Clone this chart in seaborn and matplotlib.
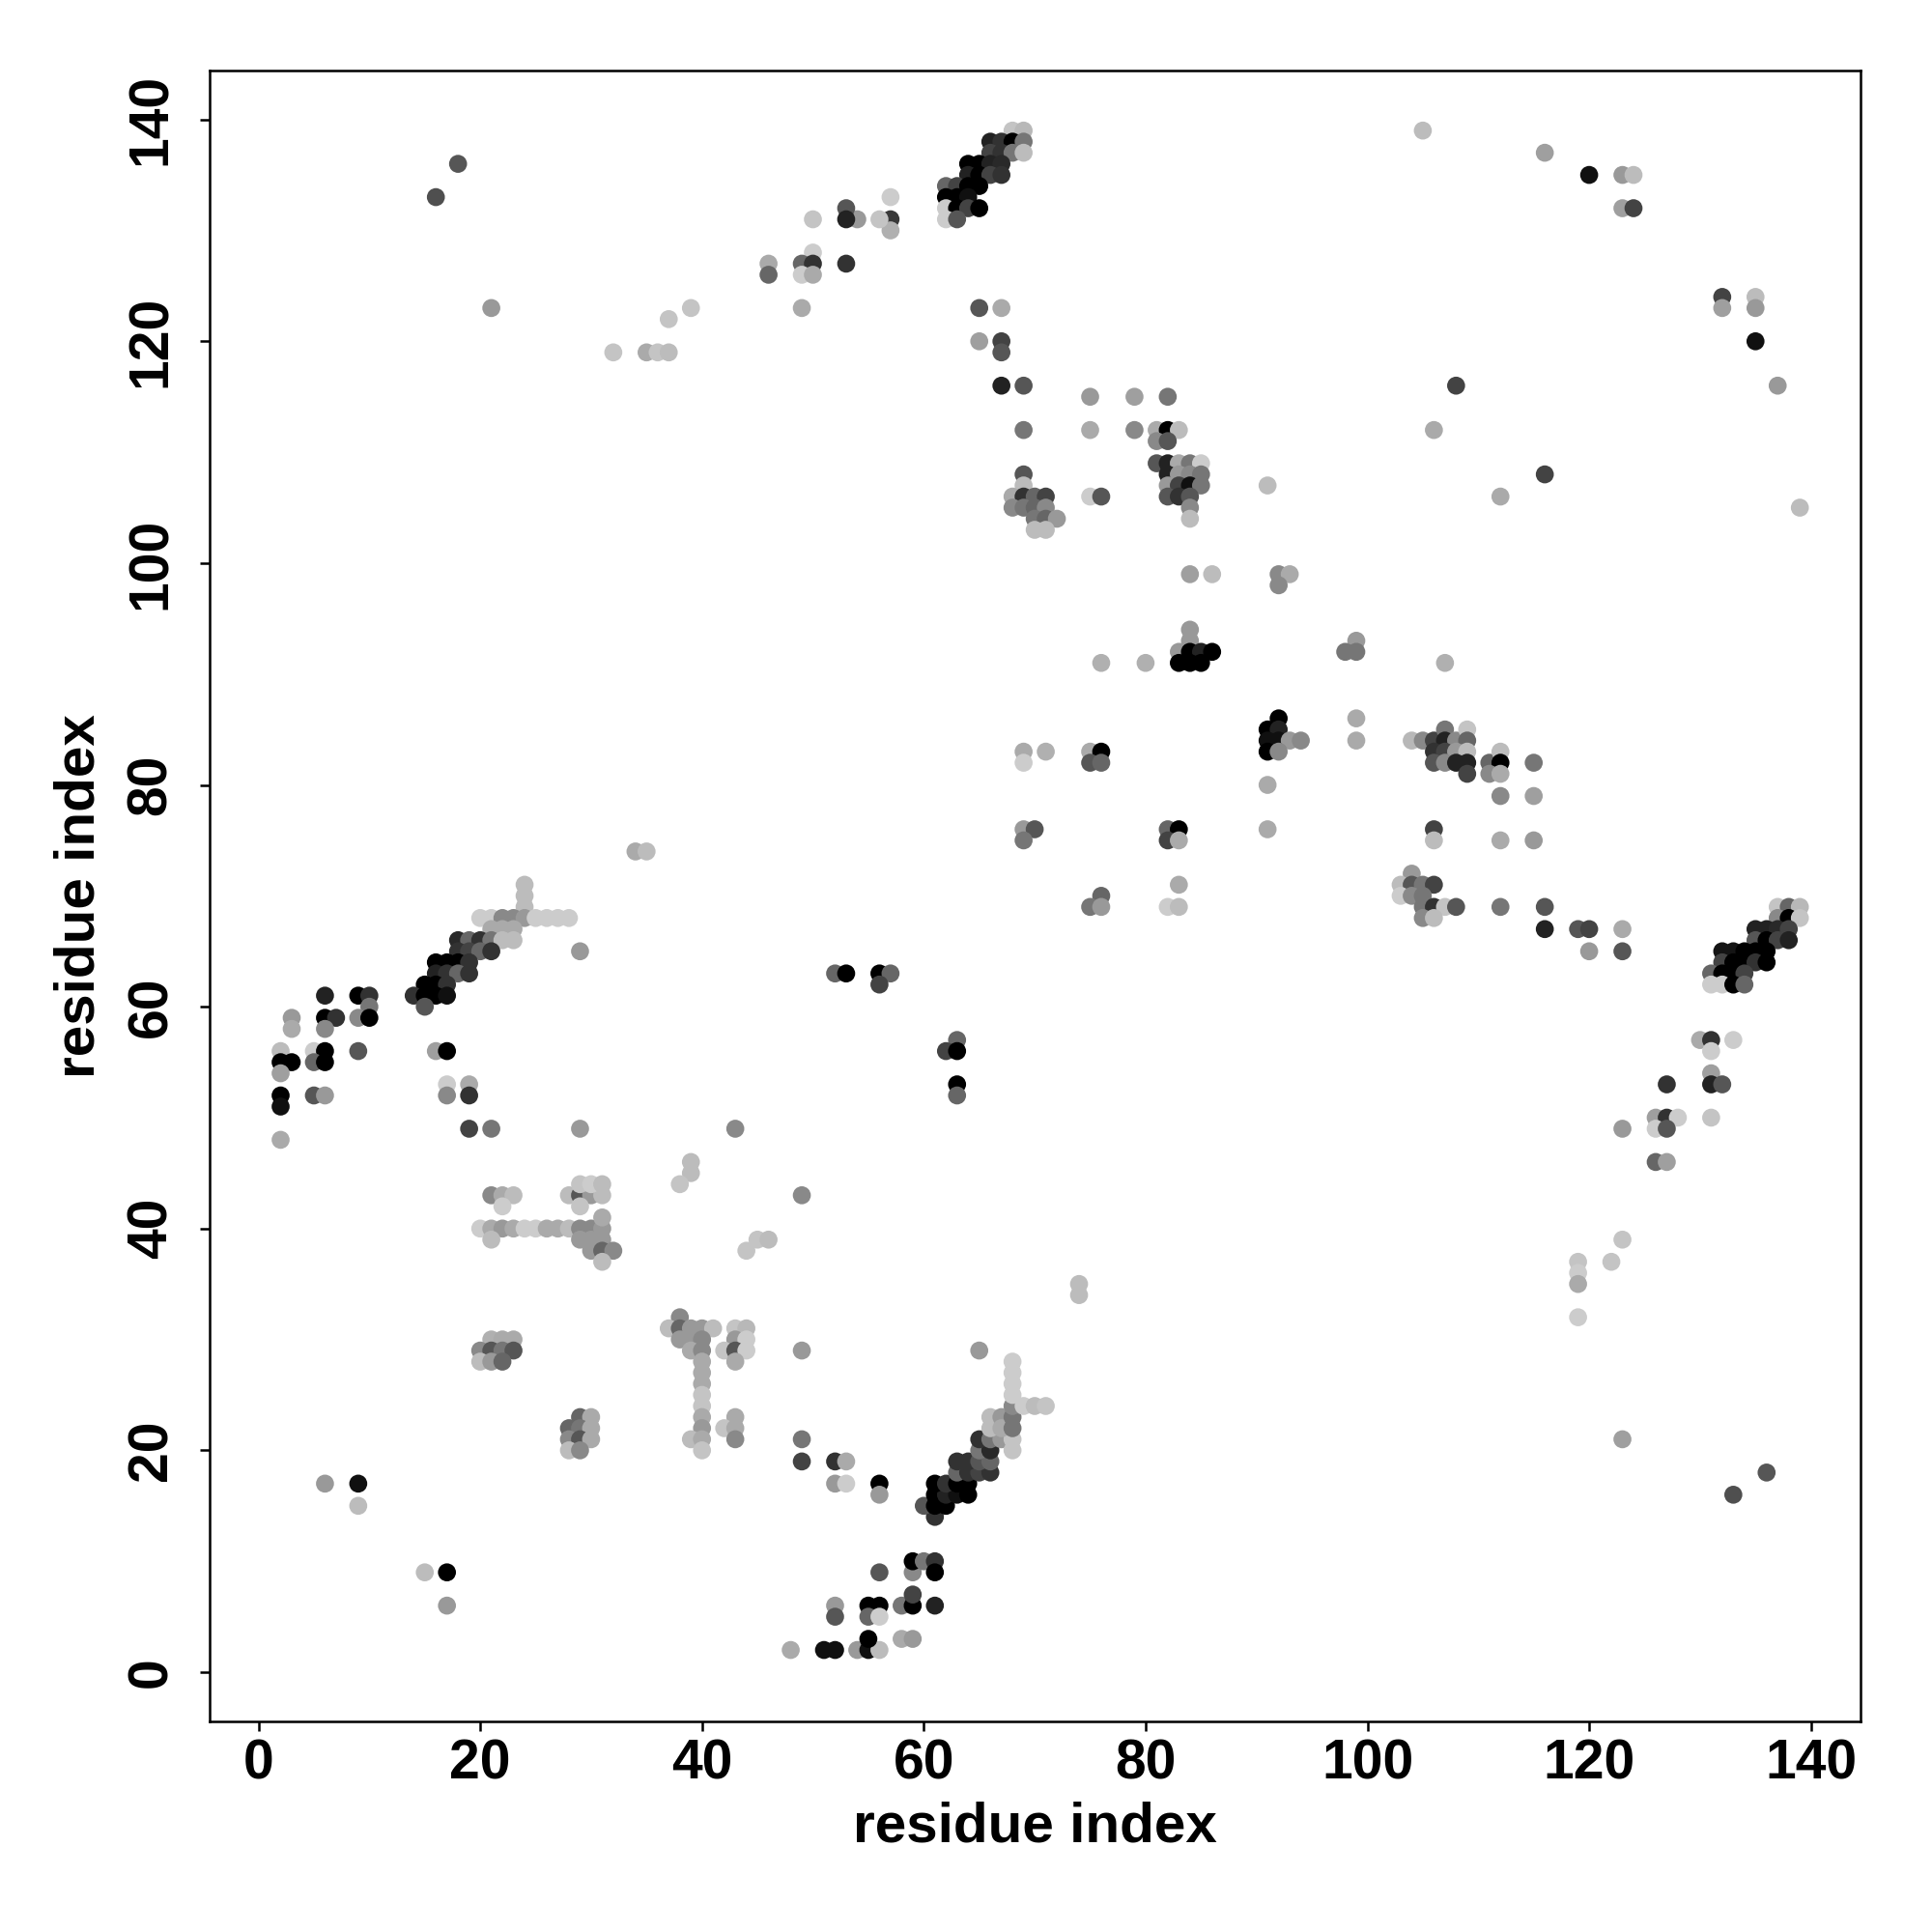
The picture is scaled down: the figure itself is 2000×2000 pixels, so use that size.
import numpy as np
import pandas as pd
import matplotlib
matplotlib.use("Agg")
import matplotlib.pyplot as plt
import seaborn as sns
from matplotlib.colors import LinearSegmentedColormap

# contacts as (residue i, residue j, score); score 0 = weakest (light), 1 = strongest (black)
top_left = [(18, 136, .58), (16, 133, .61), (21, 123, .25), (32, 119, .04), (35, 119, .17),
            (36, 119, .04), (37, 119, .08), (37, 122, .04), (39, 123, .04)]

hairpin_top = [(68, 139, .04), (69, 139, .1),
               (66, 138, .83), (67, 138, .75), (68, 138, 1.0), (69, 138, .42),
               (66, 137, .67), (67, 137, .75), (68, 137, .42), (69, 137, .08),
               (64, 136, 1.0), (65, 136, 1.0), (66, 136, .83), (67, 136, .8),
               (64, 135, .83), (65, 135, 1.0), (66, 135, .67), (67, 135, .75),
               (62, 134, .5), (63, 134, .67), (64, 134, 1.0), (65, 134, 1.0),
               (62, 133, 1.0), (63, 133, 1.0), (64, 133, .92),
               (62, 132, 0.0), (63, 132, 1.0), (64, 132, .67), (65, 132, 1.0),
               (62, 131, 0.0), (63, 131, .58)]

strand_130 = [(57, 133, 0.0), (57, 131, .72), (57, 130, .14), (56, 131, .04), (54, 131, .25),
              (53, 132, .58), (53, 131, .83), (50, 131, .04), (50, 128, 0.0), (49, 127, .5),
              (50, 127, .75), (53, 127, .75), (49, 126, 0.0), (50, 126, .17), (46, 127, .17),
              (46, 126, .5), (49, 123, .17)]

strand_120 = [(65, 123, .58), (67, 123, .17), (65, 120, .22), (67, 120, .67), (67, 119, .58),
              (67, 116, .83), (69, 116, .58), (69, 112, .42), (69, 108, .58)]

cluster_110 = [(75, 115, .25), (79, 115, .22), (82, 115, .42), (75, 112, .17), (79, 112, .33),
               (81, 112, .17), (82, 112, 1.0), (83, 112, .08), (81, 111, .33), (82, 111, .58),
               (81, 109, .58), (82, 109, .83), (83, 109, .17), (84, 109, .42), (85, 109, 0.0),
               (82, 108, .83), (83, 108, .25), (84, 108, .33), (85, 108, .42),
               (82, 107, .25), (83, 107, .67), (84, 107, .92), (85, 107, .42),
               (82, 106, .58), (83, 106, .75), (84, 106, .58), (84, 105, .33), (84, 104, .08),
               (91, 107, .08)]

cluster_105 = [(69, 107, .08), (68, 106, .17), (69, 106, .75), (70, 106, .5), (71, 106, .67),
               (68, 105, .33), (69, 105, .42), (70, 105, .5), (71, 105, .33), (70, 104, .42),
               (71, 104, .5), (72, 104, .25), (70, 103, .08), (71, 103, .08), (75, 106, 0.0),
               (76, 106, .58)]

top_right = [(105, 139, .08), (116, 137, .22), (120, 135, .92), (123, 135, .25), (124, 135, .08),
             (123, 132, .22), (124, 132, .67), (132, 124, .67), (132, 123, .22), (135, 124, .08),
             (135, 123, .25), (135, 120, .92), (137, 116, .25), (108, 116, .67), (106, 112, .17),
             (116, 108, .67), (112, 106, .17), (139, 105, .08)]

middle = [(84, 99, .22), (86, 99, .08), (92, 99, .33), (93, 99, .17), (92, 98, .33),
          (84, 94, .25), (84, 93, .25), (83, 92, .25), (84, 92, 1.0), (85, 92, .83), (86, 92, 1.0),
          (83, 91, 1.0), (84, 91, 1.0), (85, 91, 1.0), (76, 91, .14), (80, 91, .14),
          (92, 86, 1.0), (91, 85, 1.0), (92, 85, .83), (91, 84, .92), (92, 84, .92), (93, 84, .25),
          (94, 84, .33), (91, 83, 1.0), (92, 83, .33), (91, 80, .17), (91, 76, .17),
          (69, 83, .17), (69, 82, 0.0), (71, 83, .14), (75, 83, .17), (76, 83, 1.0), (75, 82, .58),
          (76, 82, .5), (69, 76, .25), (70, 76, .58), (69, 75, .42), (82, 76, .5), (83, 76, 1.0),
          (82, 75, .67), (83, 75, .17), (83, 71, .17), (76, 70, .5), (75, 69, .42), (76, 69, .25),
          (82, 69, 0.0), (83, 69, .08)]

right_middle = [(99, 93, .25), (98, 92, .42), (99, 92, .42), (107, 91, .14), (99, 86, .17), (99, 84, .17),
                (104, 84, .1), (105, 84, .33), (106, 84, .67), (107, 85, .42), (107, 84, .83),
                (108, 84, .33), (109, 85, .04), (109, 84, .5),
                (106, 83, .75), (107, 83, .67), (108, 83, .25), (109, 83, .08),
                (106, 82, .58), (107, 82, .33), (108, 82, .83), (109, 82, .83), (109, 81, .67),
                (111, 82, .5), (112, 83, .08), (112, 82, 1.0), (111, 81, .33), (112, 81, .17),
                (115, 82, .42), (112, 79, .33), (115, 79, .22),
                (106, 76, .67), (106, 75, .08), (112, 75, .17), (115, 75, .25),
                (104, 72, .25), (103, 71, .08), (104, 71, .58), (105, 71, .42), (106, 71, .67),
                (103, 70, 0.0), (104, 70, .33), (105, 70, .42), (105, 69, .42), (106, 69, .75),
                (107, 69, .04), (108, 69, .58), (105, 68, .33), (106, 68, .08)]

right_lower = [(112, 69, .42), (116, 69, .58), (116, 67, .83), (119, 67, .58), (120, 67, .67),
               (123, 67, .17), (120, 65, .25), (123, 65, .58),
               (137, 69, .04), (138, 69, .5), (139, 69, .1), (137, 68, .33), (138, 68, 1.0), (139, 68, .04),
               (135, 67, .83), (136, 67, .83), (137, 67, .8), (138, 67, .67),
               (135, 66, .58), (136, 66, 1.0), (137, 66, .67), (138, 66, .83),
               (132, 65, .9), (133, 65, .9), (134, 65, 1.0), (135, 65, 1.0), (136, 65, 1.0),
               (132, 64, .67), (133, 64, 1.0), (134, 64, 1.0), (135, 64, .75), (136, 64, 1.0),
               (131, 63, .5), (132, 63, 1.0), (133, 63, 1.0), (134, 63, .67),
               (131, 62, 0.0), (132, 62, 0.0), (133, 62, 1.0), (134, 62, .5),
               (130, 57, .17), (131, 57, .75), (133, 57, 0.0), (131, 56, 0.0), (131, 54, .22),
               (127, 53, .75), (131, 53, .83), (132, 53, .58),
               (126, 50, .22), (127, 50, .75), (128, 50, 0.0), (131, 50, .04), (123, 49, .25),
               (126, 49, 0.0), (127, 49, .58), (126, 46, .5), (127, 46, .22),
               (123, 39, .04), (122, 37, .04), (119, 37, .04), (119, 36, 0.0), (119, 35, .17),
               (119, 32, 0.0), (123, 21, .22), (136, 18, .58), (133, 16, .61)]

hairpin_left = [(24, 71, .08), (24, 70, .08), (24, 69, .08),
                (20, 68, 0.0), (21, 68, 0.0), (22, 68, .33), (23, 68, .33), (24, 68, .25),
                (25, 68, 0.0), (26, 68, 0.0), (27, 68, 0.0), (28, 68, 0.0),
                (21, 67, .17), (22, 67, .17), (23, 67, .17),
                (18, 66, .8), (19, 66, .5), (20, 66, .75), (21, 66, .42), (22, 66, .08), (23, 66, .08),
                (18, 65, .75), (19, 65, .67), (20, 65, .5), (21, 65, .75),
                (16, 64, 1.0), (17, 64, 1.0), (18, 64, 1.0), (19, 64, .75),
                (16, 63, .83), (17, 63, .75), (18, 63, .5), (19, 63, .75),
                (15, 62, 1.0), (16, 62, 1.0), (17, 62, .75),
                (14, 61, .75), (15, 61, 1.0), (16, 61, 1.0), (17, 61, .92), (15, 60, .58)]

left_edge = [(6, 61, .83), (9, 61, 1.0), (10, 61, .75), (10, 60, .42),
             (3, 59, .25), (6, 59, 1.0), (7, 59, .75), (9, 59, .33), (10, 59, 1.0), (3, 58, .17), (6, 58, .33),
             (2, 56, .08), (5, 56, 0.0), (6, 56, 1.0), (9, 56, .58), (16, 56, .22), (17, 56, 1.0),
             (2, 55, 1.0), (3, 55, 1.0), (5, 55, .5), (6, 55, 1.0), (2, 54, .22),
             (2, 52, 1.0), (5, 52, .58), (6, 52, .25), (2, 51, .92),
             (17, 53, 0.0), (19, 53, .17), (17, 52, .33), (19, 52, .75),
             (2, 48, .17), (19, 49, .67), (21, 49, .42), (29, 49, .25), (43, 49, .33), (29, 65, .25),
             (39, 46, .08), (39, 45, .08), (38, 44, .04), (34, 74, .17), (35, 74, .08)]

cluster_40 = [(21, 43, .33), (22, 43, .17), (23, 43, .08), (22, 42, 0.0),
              (28, 43, .08), (29, 43, .58), (30, 43, .25), (31, 43, .08), (29, 44, .04), (30, 44, 0.0),
              (31, 44, .08), (29, 42, .04),
              (20, 40, 0.0), (21, 40, .17), (22, 40, .25), (23, 40, .17), (24, 40, 0.0), (25, 40, 0.0),
              (26, 40, .17), (27, 40, .17), (28, 40, .08), (29, 40, .33), (30, 40, .33), (31, 40, .25),
              (31, 41, .17), (21, 39, .08), (29, 39, .25), (30, 39, .25), (31, 39, .25), (30, 38, .25),
              (31, 38, .5), (32, 38, .33), (31, 37, .08), (44, 38, .04), (45, 39, .04), (46, 39, .08)]

center = [(52, 63, .5), (53, 63, 1.0), (56, 63, 1.0), (57, 63, .5), (56, 62, .67), (63, 57, .5),
          (62, 56, .67), (63, 56, 1.0), (63, 53, 1.0), (63, 52, .5), (49, 43, .33), (74, 35, .08),
          (74, 34, .08)]

bottom_left = [(6, 17, .25), (9, 17, .92), (9, 15, .08), (15, 9, .08), (17, 9, 1.0), (17, 6, .25),
               (21, 30, .14), (22, 30, .17), (23, 30, .17), (20, 29, .33), (21, 29, .58), (22, 29, .42),
               (23, 29, .58), (20, 28, .08), (21, 28, .25), (22, 28, .5),
               (29, 23, .5), (30, 23, .17), (28, 22, .5), (29, 22, .42), (30, 22, .17), (28, 21, .33),
               (29, 21, .58), (30, 21, .17), (28, 20, .08), (29, 20, .33),
               (38, 32, .33), (37, 31, .08), (38, 31, .5), (39, 31, .25), (40, 31, .25), (41, 31, .08),
               (38, 30, .25), (39, 30, .25), (40, 30, .33), (39, 29, .17), (40, 29, .33), (40, 28, .17),
               (40, 27, .17), (40, 26, .17), (40, 25, .04), (40, 24, .04), (40, 23, .17), (40, 22, .25),
               (39, 21, .08), (40, 21, .17), (40, 20, .04),
               (43, 31, .04), (44, 31, .1), (43, 30, .25), (44, 30, 0.0), (42, 29, .04), (43, 29, .58),
               (44, 29, 0.0), (43, 28, .17), (43, 23, .17), (42, 22, .04), (43, 22, .17), (43, 21, .33)]

bottom_middle = [(49, 29, .25), (65, 29, .25), (49, 21, .42), (49, 19, .67), (52, 19, .75), (53, 19, .17),
                 (52, 17, .25), (53, 17, 0.0), (56, 17, 1.0), (56, 16, .25),
                 (48, 2, .17), (51, 2, .92), (52, 2, .92), (54, 2, .25), (55, 2, .92), (56, 2, .08),
                 (55, 3, 1.0), (58, 3, .17), (59, 3, .25),
                 (52, 6, .25), (52, 5, .58), (55, 6, 1.0), (56, 6, 1.0), (55, 5, .5), (56, 5, 0.0),
                 (58, 6, .42), (59, 6, 1.0), (59, 7, .67), (61, 6, .83),
                 (59, 9, .33), (56, 9, .58), (59, 10, 1.0), (60, 10, .42), (61, 10, .75), (61, 9, 1.0)]

hairpin_low = [(61, 14, .75), (60, 15, .58), (61, 15, 1.0), (62, 15, 1.0), (61, 16, 1.0), (62, 16, .83),
               (63, 16, .92), (64, 16, 1.0), (61, 17, 1.0), (62, 17, .75), (63, 17, 1.0), (64, 17, 1.0),
               (63, 18, .5), (64, 18, .75), (65, 18, .67), (66, 18, .75),
               (63, 19, .75), (64, 19, .75), (65, 19, .58), (66, 19, .5),
               (65, 20, .42), (66, 20, .8), (65, 21, .75), (66, 21, .42), (67, 21, .25), (68, 21, .04),
               (68, 20, .04), (66, 22, .08), (66, 23, .08), (67, 23, .25), (67, 22, .17), (68, 23, .42),
               (68, 22, .42), (68, 24, .33), (68, 28, 0.0), (68, 27, 0.0), (68, 26, 0.0), (68, 25, 0.0),
               (69, 24, 0.0), (70, 24, .08), (71, 24, .04)]

groups = [top_left, hairpin_top, strand_130, strand_120, cluster_110, cluster_105, top_right,
          middle, right_middle, right_lower, hairpin_left, left_edge, cluster_40, center,
          bottom_left, bottom_middle, hairpin_low]
df = pd.DataFrame([p for g in groups for p in g], columns=["i", "j", "score"])

sns.set_style("white")
plt.rcParams["font.family"] = ["Liberation Sans", "DejaVu Sans"]
plt.rcParams["font.weight"] = "bold"
plt.rcParams["text.color"] = "black"
plt.rcParams["axes.labelcolor"] = "black"
plt.rcParams["xtick.color"] = "black"
plt.rcParams["ytick.color"] = "black"

fig = plt.figure(figsize=(20, 20), dpi=100)
ax = fig.add_axes([0.1084, 0.109, 0.8546, 0.8547])

greys = LinearSegmentedColormap.from_list("contact", ["#cccccc", "#000000"])
sns.scatterplot(data=df, x="i", y="j", hue="score", palette=greys, hue_norm=(0, 1),
                s=180, linewidth=0, legend=False, ax=ax)

ax.set_xlim(-4.42, 144.47)
ax.set_ylim(-4.44, 144.45)
ticks = [0, 20, 40, 60, 80, 100, 120, 140]
ax.set_xticks(ticks)
ax.set_yticks(ticks)
ax.set_yticklabels([str(t) for t in ticks], rotation=90, va="center")
for sp in ax.spines.values():
    sp.set_visible(True)
    sp.set_color("black")
    sp.set_linewidth(1.8)
ax.tick_params(axis="both", direction="out", length=7.5, width=1.8, colors="black",
               labelcolor="black", labelsize=41, left=True, bottom=True)
ax.tick_params(axis="x", pad=5)
ax.tick_params(axis="y", pad=16)

ax.set_xlabel("residue index", fontsize=42, fontweight="bold", va="center", color="black")
ax.set_ylabel("residue index", fontsize=42, fontweight="bold", va="center", color="black")
ax.xaxis.set_label_coords(0.5, -0.0638)
ax.yaxis.set_label_coords(-0.0784, 0.5)

fig.savefig("out.png", dpi=100)
